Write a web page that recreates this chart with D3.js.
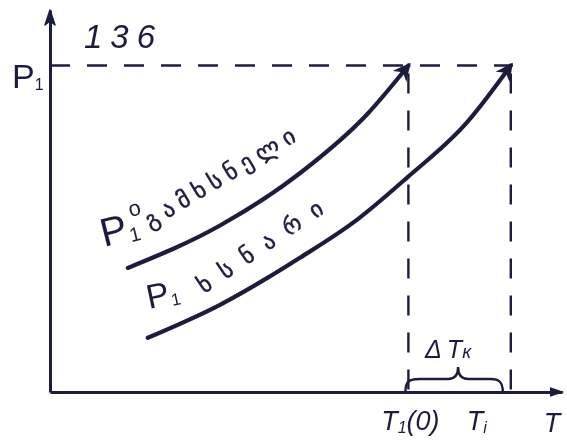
<!DOCTYPE html>
<html>
<head>
<meta charset="utf-8">
<script src="https://cdn.jsdelivr.net/npm/d3@7"></script>
<style>
  html, body { margin: 0; padding: 0; background: #ffffff; }
  svg { display: block; }
</style>
</head>
<body>
<svg id="chart" width="567" height="443"></svg>
<script>
// Vapour pressure of pure solvent (P1°) and of solution (P1) versus temperature
const solventT   = [15.2, 33.2, 48.8, 61.9, 70];
const solventP   = [38.0, 51.0, 67.0, 85.0, 100];
const solutionT  = [19.1, 33.2, 48.8, 60.0, 69.7, 81.4, 90];
const solutionP  = [16.6, 26.7, 41.1, 52.8, 65.6, 82.5, 100];

const pressureLevel = 100;          // P1 reference pressure
const boilT = [70, 90];             // T1(0) and Ti
const curveNames = ["გამხსნელი", "ხსნარი"];
const yUnit = "136";

const ink = "#1f1d3d";
const svg = d3.select("#chart");

const x = d3.scaleLinear().domain([0, 100]).range([50, 562]);
const y = d3.scaleLinear().domain([0, 117]).range([392, 10]);

const defs = svg.append("defs");
defs.append("filter").attr("id", "soft")
  .append("feGaussianBlur").attr("stdDeviation", 0.45);
defs.append("marker")
  .attr("id", "head").attr("viewBox", "0 0 10 10")
  .attr("refX", 8).attr("refY", 5)
  .attr("markerWidth", 4.2).attr("markerHeight", 4.2)
  .attr("markerUnits", "strokeWidth")
  .attr("orient", "auto")
  .append("path").attr("d", "M0,0 L10,5 L0,10 L3,5 Z").attr("fill", ink);

const g = svg.append("g").attr("filter", "url(#soft)");

// axes
const xAxis = g.append("g").attr("transform", `translate(0,${y(0)})`)
  .call(d3.axisBottom(x).tickValues([]).tickSizeOuter(0));
const yAxis = g.append("g").attr("transform", `translate(${x(0)},0)`)
  .call(d3.axisLeft(y).tickValues([]).tickSizeOuter(0));
[xAxis, yAxis].forEach(a => a.select(".domain")
  .attr("stroke", ink).attr("stroke-width", 3));

// axis arrowheads
g.append("path")
  .attr("d", `M${x(100) - 12},${y(0) - 4} L${x(100)},${y(0)} L${x(100) - 12},${y(0) + 4}`)
  .attr("fill", ink).attr("stroke", ink).attr("stroke-width", 1.5);
g.append("path")
  .attr("d", `M${x(0) - 5},${y(117) + 15} L${x(0)},${y(117)} L${x(0) + 5},${y(117) + 15} L${x(0)},${y(117) + 11} Z`)
  .attr("fill", ink).attr("stroke", ink).attr("stroke-width", 1.5)
  .attr("stroke-linejoin", "round");

// dashed guides
const dash = "20,17";
g.append("line")
  .attr("x1", x(0)).attr("x2", x(boilT[1]))
  .attr("y1", y(pressureLevel)).attr("y2", y(pressureLevel))
  .attr("stroke", ink).attr("stroke-width", 2.4).attr("stroke-dasharray", dash);
boilT.forEach(t => {
  g.append("line")
    .attr("x1", x(t)).attr("x2", x(t))
    .attr("y1", y(pressureLevel)).attr("y2", y(0))
    .attr("stroke", ink).attr("stroke-width", 2.4).attr("stroke-dasharray", dash)
    .attr("stroke-dashoffset", -8);
});

// curves
const line = d3.line().x(d => x(d[0])).y(d => y(d[1])).curve(d3.curveMonotoneX);
const series = [d3.zip(solventT, solventP), d3.zip(solutionT, solutionP)];
series.forEach(pts => {
  g.append("path").datum(pts)
    .attr("d", line)
    .attr("fill", "none").attr("stroke", ink)
    .attr("stroke-width", 4.2).attr("stroke-linecap", "round")
    .attr("marker-end", "url(#head)");
});

// curve labels
function pLabel(px, py, angle, size, withDegree) {
  const t = g.append("text")
    .attr("transform", `translate(${px},${py}) rotate(${angle})`)
    .attr("font-family", "Liberation Sans, Arial, sans-serif")
    .attr("font-size", size).attr("fill", ink);
  t.append("tspan").text("P");
  t.append("tspan").attr("font-size", size * 0.5).attr("dy", 2).attr("dx", 1).text("1");
  if (withDegree) {
    t.append("tspan").attr("font-size", size * 0.55).attr("dy", -size * 0.62).attr("dx", -6).text("o");
  }
}
pLabel(104, 247, -14, 40, true);
pLabel(149, 309, -12, 34, false);

function geoLabel(px, py, angle, len, txt) {
  g.append("text")
    .attr("transform", `translate(${px},${py}) rotate(${angle})`)
    .attr("font-family", "DejaVu Sans, Noto Sans, sans-serif")
    .attr("font-size", 23).attr("fill", ink)
    .attr("stroke", ink).attr("stroke-width", 0.5)
    .attr("textLength", len).attr("lengthAdjust", "spacing")
    .text(txt);
}
geoLabel(150, 229, -31, 172, curveNames[0]);
geoLabel(204, 294, -34, 146, curveNames[1]);

// axis titles
const ax = g.append("g").attr("fill", ink)
  .attr("font-family", "Liberation Sans, Arial, sans-serif");
const pT = ax.append("text").attr("x", 12).attr("y", 88).attr("font-size", 34);
pT.append("tspan").text("P");
pT.append("tspan").attr("font-size", 16).attr("dy", 2).text("1");

ax.append("text").attr("x", 84).attr("y", 48)
  .attr("font-size", 33).attr("font-style", "italic")
  .attr("letter-spacing", 8).text(yUnit);

// temperature labels
const tl1 = ax.append("text").attr("x", x(boilT[0]) + 2).attr("y", 430)
  .attr("text-anchor", "middle").attr("font-size", 27).attr("font-style", "italic");
tl1.append("tspan").text("T");
tl1.append("tspan").attr("font-size", 16).attr("dy", 3).text("1");
tl1.append("tspan").attr("dy", -3).text("(0)");

const tl2 = ax.append("text").attr("x", x(boilT[1]) - 34).attr("y", 430)
  .attr("text-anchor", "middle").attr("font-size", 27).attr("font-style", "italic");
tl2.append("tspan").text("T");
tl2.append("tspan").attr("font-size", 16).attr("dy", 3).text("i");

ax.append("text").attr("x", x(100) - 10).attr("y", 432)
  .attr("text-anchor", "middle").attr("font-size", 27).attr("font-style", "italic").text("T");

// ΔTk brace
const bl = x(boilT[0]) - 3, br = x(boilT[1]) - 8, bm = (bl + br) / 2 + 4, by = y(0);
g.append("path")
  .attr("d", `M${bl},${by} C${bl},${by - 11} ${bl + 4},${by - 13} ${bl + 14},${by - 13}
              L${bm - 10},${by - 13} C${bm - 3},${by - 13} ${bm},${by - 18} ${bm},${by - 25}
              C${bm},${by - 18} ${bm + 3},${by - 13} ${bm + 10},${by - 13}
              L${br - 12},${by - 13} C${br - 4},${by - 13} ${br},${by - 10} ${br},${by}`)
  .attr("fill", "none").attr("stroke", ink).attr("stroke-width", 2.4);

const dT = ax.append("text").attr("x", bm - 10).attr("y", 358)
  .attr("text-anchor", "middle").attr("font-size", 25).attr("font-style", "italic");
dT.append("tspan").text("Δ");
dT.append("tspan").attr("dx", 5).text("T");
dT.append("tspan").attr("font-size", 19).text("к");
</script>
</body>
</html>
